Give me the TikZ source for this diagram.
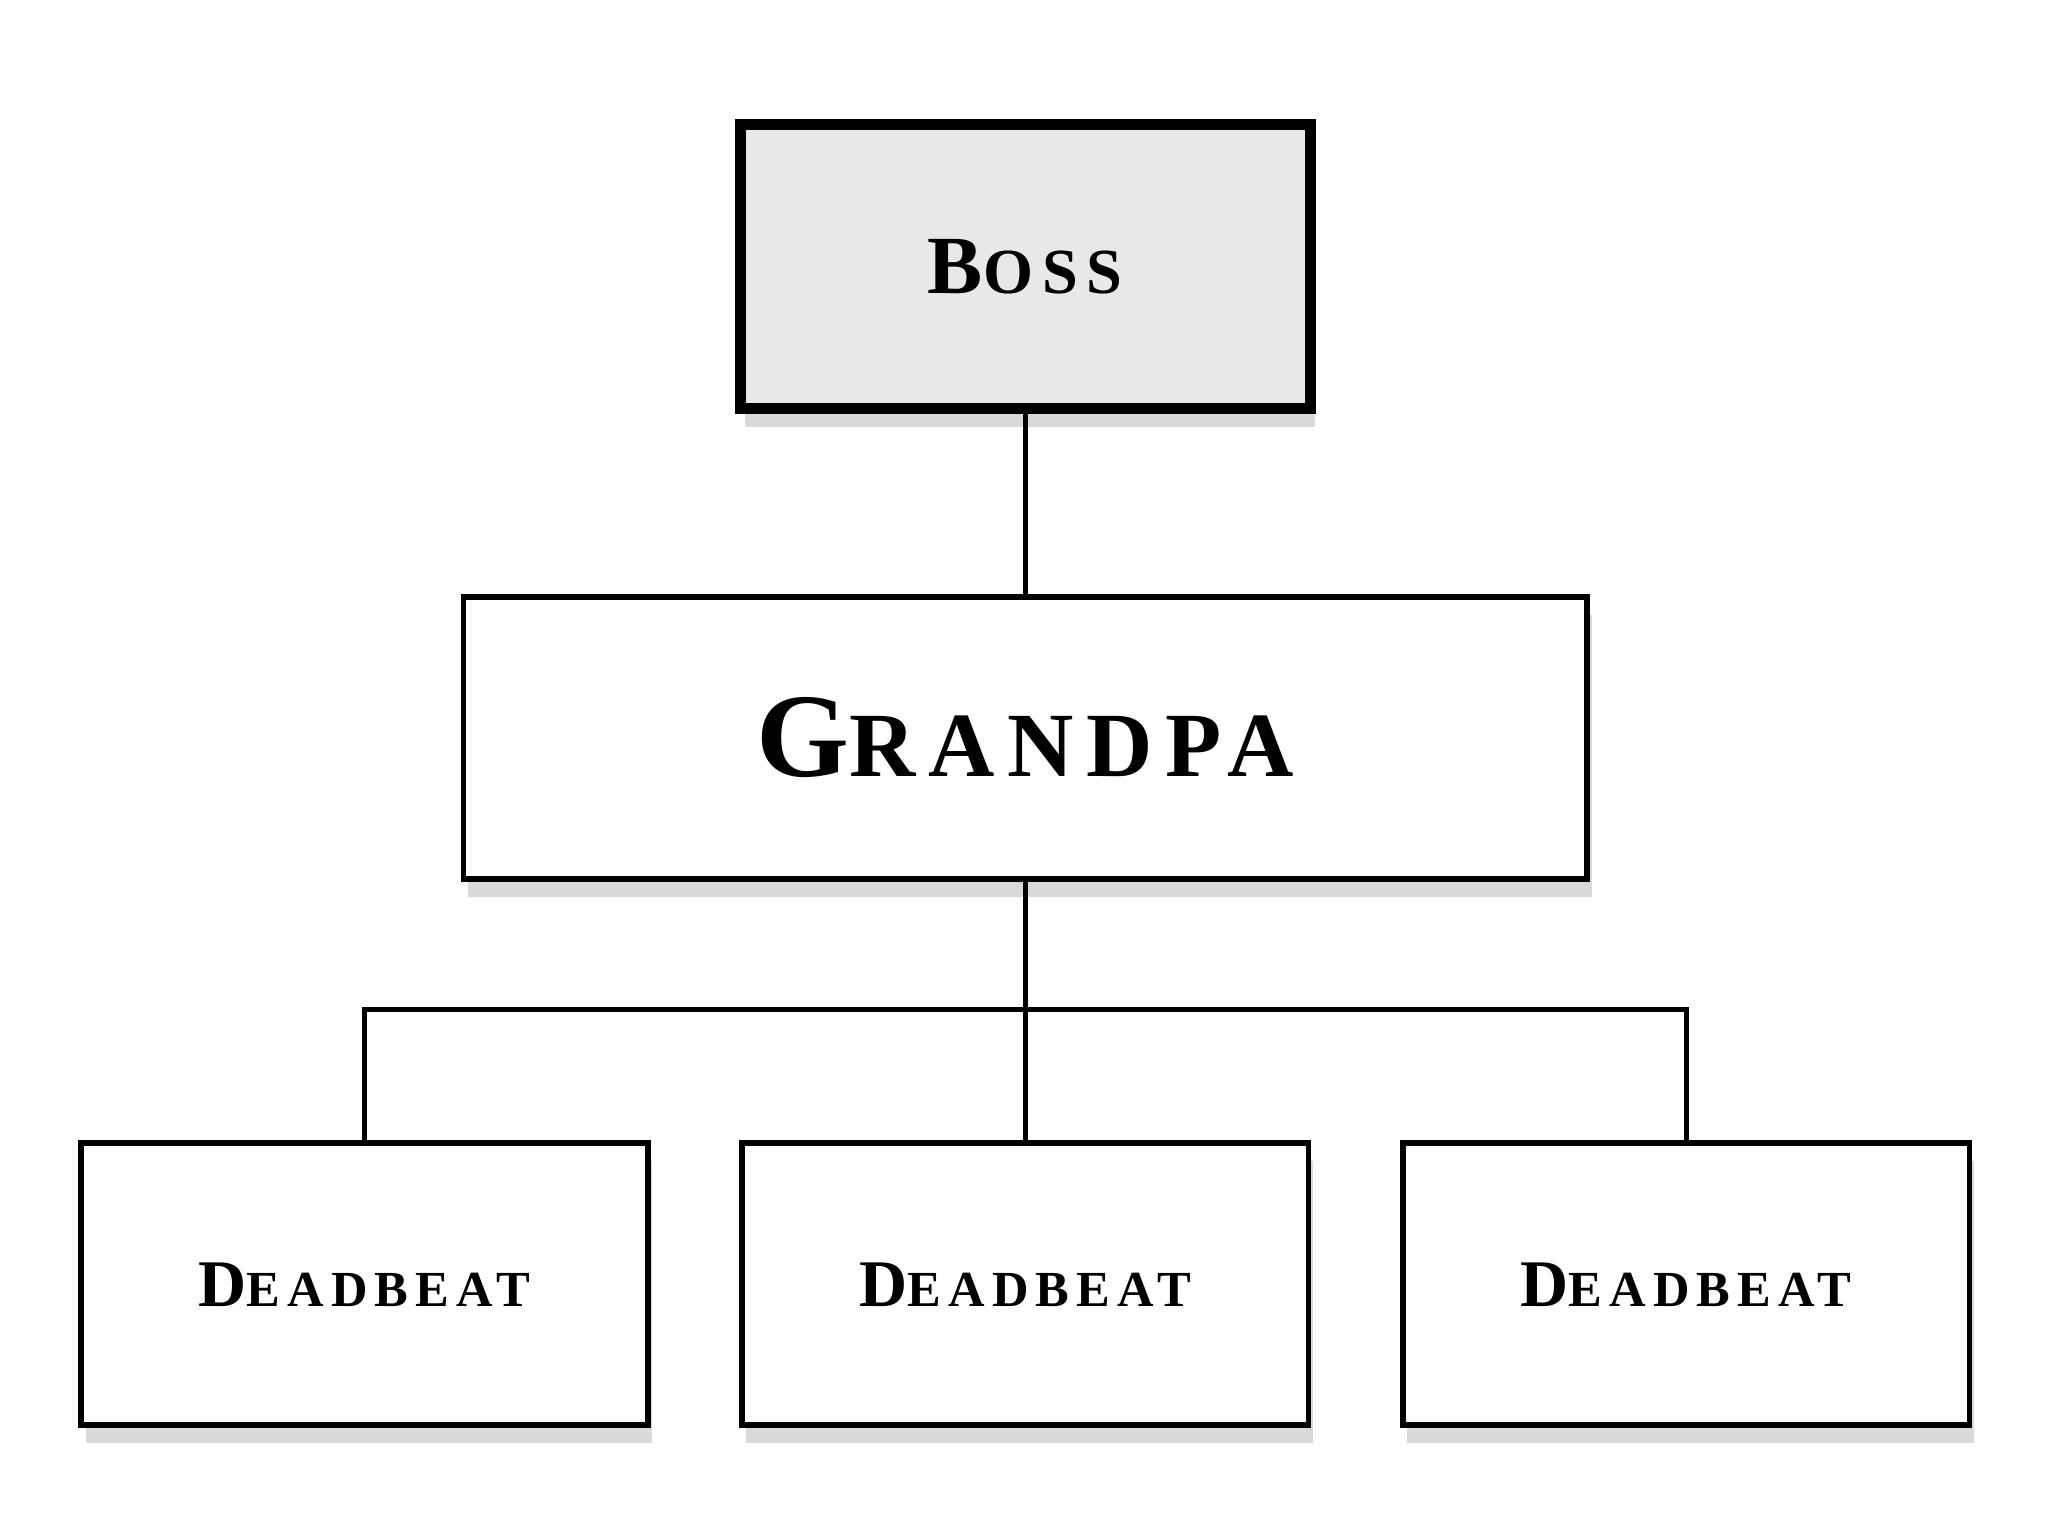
\documentclass[tikz,border=0pt]{standalone}
\usepackage{fontspec}
\setmainfont{Liberation Serif}[LetterSpace=14]
\usetikzlibrary{shadows}
\newcommand{\capsw}[4]{{\bfseries\fontsize{#1}{#1}\selectfont #3\fontsize{#2}{#2}\selectfont #4}}
\begin{document}
\begin{tikzpicture}[x=0.01cm,y=-0.01cm,
  box/.style={draw=black,fill=white,line width=1.2pt,drop shadow={shadow xshift=1pt,shadow yshift=-4pt,opacity=0.3}},
  conn/.style={line width=1pt}]
\useasboundingbox (0,0) rectangle (1568,1176);
\draw[box,fill={rgb,255:red,232;green,232;blue,232},line width=2.4pt] (567,95) rectangle (1003,313);
\node (boss) at (785,204) {\capsw{18pt}{14pt}{B}{OSS}};
\coordinate (bossb) at (785,313);
\draw[box] (355,457) rectangle (1215,673);
\node (gp) at (785,565) {\capsw{26pt}{20pt}{G}{RANDPA}};
\coordinate (gpt) at (785,457);
\coordinate (gpb) at (785,673);
\foreach \x/\n in {279/a,785/b,1291/c}{
  \draw[box] (\x-217,875) rectangle (\x+217,1091);
  \node (d\n) at (\x,984) {\capsw{14.5pt}{11pt}{D}{EADBEAT}};
  \coordinate (t\n) at (\x,875);
}
\coordinate (bl) at (279,773);
\coordinate (br) at (1291,773);
\draw[conn] (bossb) -- (gpt);
\draw[conn] (gpb) -- (tb);
\draw[conn] (ta) -- (bl) -- (br) -- (tc);
\end{tikzpicture}
\end{document}
